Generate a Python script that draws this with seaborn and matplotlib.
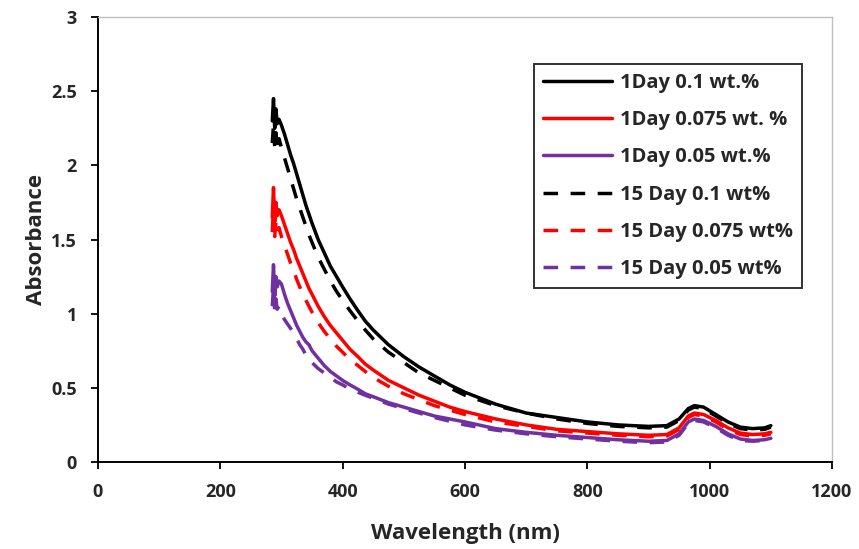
import matplotlib
matplotlib.use("Agg")
import matplotlib.pyplot as plt
import seaborn as sns
import pandas as pd

wavelength = [285, 287, 289, 291, 293, 296, 300, 305, 310, 315, 320, 325, 330, 335, 340, 345, 350, 360, 370,
              380, 390, 400, 412, 425, 437, 450, 475, 500, 525, 550, 575, 600, 650, 700, 750, 800, 850, 900,
              930, 950, 965, 975, 990, 1010, 1030, 1050, 1070, 1090, 1100]

day1_01 = [2.30, 2.45, 2.25, 2.38, 2.28, 2.31, 2.27, 2.21, 2.14, 2.07, 2.01, 1.94, 1.87, 1.80, 1.73, 1.67,
           1.61, 1.50, 1.41, 1.32, 1.25, 1.18, 1.10, 1.02, 0.95, 0.89, 0.79, 0.71, 0.64, 0.58, 0.52, 0.47,
           0.39, 0.33, 0.30, 0.27, 0.25, 0.24, 0.245, 0.29, 0.36, 0.38, 0.37, 0.32, 0.27, 0.235, 0.225,
           0.23, 0.245]
day1_0075 = [1.65, 1.85, 1.62, 1.75, 1.66, 1.70, 1.66, 1.60, 1.54, 1.48, 1.43, 1.37, 1.32, 1.27, 1.22, 1.17,
             1.13, 1.05, 0.98, 0.92, 0.87, 0.82, 0.76, 0.71, 0.66, 0.62, 0.55, 0.50, 0.45, 0.41, 0.37, 0.34,
             0.29, 0.25, 0.22, 0.205, 0.19, 0.18, 0.185, 0.23, 0.31, 0.33, 0.32, 0.28, 0.23, 0.195, 0.185,
             0.19, 0.20]
day1_005 = [1.15, 1.33, 1.12, 1.25, 1.18, 1.22, 1.20, 1.13, 1.07, 1.02, 0.97, 0.92, 0.88, 0.84, 0.81, 0.79,
            0.75, 0.70, 0.65, 0.61, 0.58, 0.55, 0.52, 0.49, 0.46, 0.44, 0.40, 0.37, 0.34, 0.31, 0.29, 0.27,
            0.225, 0.20, 0.18, 0.165, 0.15, 0.14, 0.145, 0.19, 0.27, 0.29, 0.28, 0.24, 0.19, 0.155, 0.145,
            0.15, 0.16]
day15_01 = [2.15, 2.28, 2.12, 2.22, 2.10, 2.18, 2.12, 2.05, 1.98, 1.91, 1.84, 1.77, 1.71, 1.65, 1.59, 1.53,
            1.48, 1.38, 1.30, 1.22, 1.15, 1.09, 1.02, 0.95, 0.89, 0.83, 0.74, 0.67, 0.60, 0.55, 0.50, 0.45,
            0.38, 0.33, 0.29, 0.26, 0.24, 0.23, 0.235, 0.28, 0.35, 0.37, 0.36, 0.31, 0.26, 0.225, 0.215,
            0.22, 0.235]
day15_0075 = [1.55, 1.72, 1.52, 1.62, 1.55, 1.58, 1.52, 1.46, 1.40, 1.34, 1.29, 1.23, 1.18, 1.13, 1.09, 1.05,
              1.01, 0.94, 0.88, 0.83, 0.78, 0.74, 0.69, 0.65, 0.61, 0.57, 0.51, 0.46, 0.42, 0.38, 0.35, 0.32,
              0.27, 0.24, 0.21, 0.195, 0.18, 0.17, 0.175, 0.22, 0.30, 0.32, 0.31, 0.27, 0.22, 0.185, 0.175,
              0.18, 0.19]
day15_005 = [1.05, 1.18, 1.02, 1.10, 1.03, 1.05, 1.00, 0.96, 0.93, 0.90, 0.87, 0.83, 0.79, 0.76, 0.72, 0.69,
             0.67, 0.63, 0.60, 0.57, 0.54, 0.52, 0.49, 0.47, 0.45, 0.43, 0.39, 0.36, 0.33, 0.30, 0.275, 0.25,
             0.215, 0.19, 0.17, 0.155, 0.14, 0.13, 0.135, 0.18, 0.26, 0.28, 0.27, 0.23, 0.18, 0.145, 0.14,
             0.145, 0.155]

labels = ["1Day 0.1 wt.%", "1Day 0.075 wt. %", "1Day 0.05 wt.%",
          "15 Day 0.1 wt%", "15 Day 0.075 wt%", "15 Day 0.05 wt%"]
series = [day1_01, day1_0075, day1_005, day15_01, day15_0075, day15_005]
colors = ["#000000", "#FF0000", "#7030A0", "#000000", "#FF0000", "#7030A0"]
styles = ["-", "-", "-", "--", "--", "--"]

xticks = [0, 200, 400, 600, 800, 1000, 1200]
yticks = [0, 0.5, 1, 1.5, 2, 2.5, 3]
ytick_labels = ["0", "0.5", "1", "1.5", "2", "2.5", "3"]

sns.set_theme(style="white")
FAM = ["Open Sans", "DejaVu Sans"]
plt.rcParams["font.family"] = FAM
plt.rcParams["font.weight"] = "bold"

fig = plt.figure(figsize=(8.59, 5.49), dpi=100)
ax = fig.add_axes([0.114, 0.1585, 0.8546, 0.8105])

for lab, vals, col, ls in zip(labels, series, colors, styles):
    df = pd.DataFrame({"Wavelength": wavelength, "Absorbance": vals})
    sns.lineplot(data=df, x="Wavelength", y="Absorbance", ax=ax, color=col, label=lab, linewidth=2.5)
    l = ax.get_lines()[-1]
    if ls == "--":
        l.set_dashes((4.2, 3.6))
    l.set_solid_capstyle("round")
    l.set_solid_joinstyle("round")

ax.set_xlim(0, 1200)
ax.set_ylim(0, 3)
ax.set_xticks(xticks)
ax.set_xticklabels([str(t) for t in xticks], fontsize=13, fontweight="bold", family=FAM)
ax.set_yticks(yticks)
ax.set_yticklabels(ytick_labels, fontsize=13, fontweight="bold", family=FAM)
ax.set_xlabel("Wavelength (nm)", fontsize=16, fontweight="bold", family=FAM, labelpad=16)
ax.set_ylabel("Absorbance", fontsize=16, fontweight="bold", family=FAM, labelpad=3)

for side in ["left", "bottom"]:
    ax.spines[side].set_color("black")
    ax.spines[side].set_linewidth(1.4)
for side in ["top", "right"]:
    ax.spines[side].set_color("#BFBFBF")
    ax.spines[side].set_linewidth(1.0)

ax.tick_params(axis="both", which="both", direction="out", length=5, width=1.3, color="black",
               left=True, bottom=True, pad=10)

leg = ax.legend(loc="upper right", bbox_to_anchor=(0.959, 0.895), borderaxespad=0,
                prop={"family": FAM, "weight": "bold", "size": 14.5},
                handlelength=3.4, handletextpad=0.4, labelspacing=0.86, borderpad=0.45,
                fancybox=False, frameon=True)
leg.get_frame().set_edgecolor("black")
leg.get_frame().set_linewidth(1.4)

fig.savefig("out.png", dpi=100)
